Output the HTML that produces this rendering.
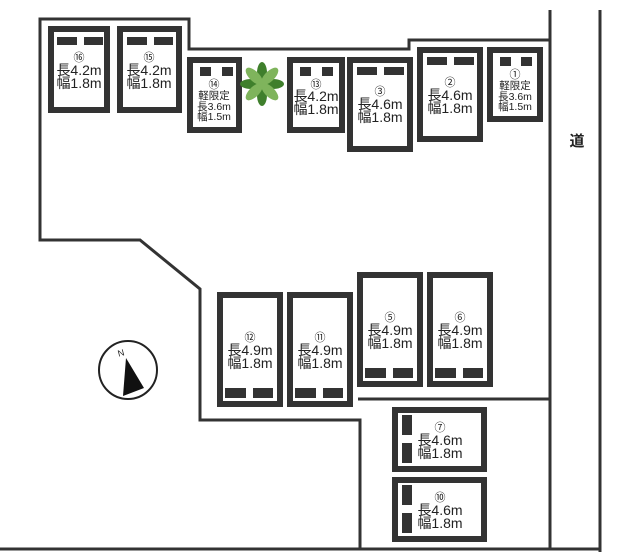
<!DOCTYPE html>
<html><head><meta charset="utf-8"><style>
html,body{margin:0;padding:0;background:#fff;}
svg{display:block;}
text{font-family:"Liberation Sans","Noto Sans CJK JP",sans-serif;fill:#222;text-anchor:middle;}
.n{font-size:11px}.t{font-size:14px}.s{font-size:10.5px}
</style></head><body>
<svg width="620" height="560" viewBox="0 0 620 560" xmlns="http://www.w3.org/2000/svg">
<g fill="none" stroke="#333" stroke-width="3">
<polyline points="550,10 550,40 409,40 409,49 189,49 189,19 40,19 40,240 140,240 200,289 200,420 360,420 360,549"/>
<line x1="0" y1="549" x2="600" y2="549"/>
<line x1="550" y1="40" x2="550" y2="549"/>
<line x1="600" y1="10" x2="600" y2="552"/>
<line x1="358" y1="399" x2="550" y2="399"/>
</g>
<g fill="#fff" stroke="#333" stroke-width="6">
<rect x="51" y="29" width="56" height="81"/>
<rect x="120" y="29" width="59" height="81"/>
<rect x="190" y="60" width="49" height="70"/>
<rect x="290" y="60" width="52" height="70"/>
<rect x="350" y="60" width="60" height="89"/>
<rect x="420" y="50" width="60" height="89"/>
<rect x="490" y="50" width="50" height="69"/>
<rect x="220" y="295" width="60" height="109"/>
<rect x="290" y="295" width="60" height="109"/>
<rect x="360" y="275" width="60" height="109"/>
<rect x="430" y="275" width="60" height="109"/>
<rect x="395" y="410" width="89" height="59"/>
<rect x="395" y="480" width="89" height="59"/>
</g>
<g fill="#333">
<rect x="57" y="37" width="20" height="8"/><rect x="84" y="37" width="19" height="8"/>
<rect x="127" y="37" width="20" height="8"/><rect x="154" y="37" width="19" height="8"/>
<rect x="200" y="67" width="11" height="9"/><rect x="222" y="67" width="11" height="9"/>
<rect x="300" y="67" width="11" height="9"/><rect x="322" y="67" width="11" height="9"/>
<rect x="357" y="67" width="20" height="8"/><rect x="384" y="67" width="20" height="8"/>
<rect x="427" y="57" width="20" height="8"/><rect x="454" y="57" width="20" height="8"/>
<rect x="500" y="57" width="11" height="9"/><rect x="521" y="57" width="11" height="9"/>
<rect x="225" y="388" width="21" height="10"/><rect x="253" y="388" width="20" height="10"/>
<rect x="295" y="388" width="21" height="10"/><rect x="323" y="388" width="20" height="10"/>
<rect x="365" y="368" width="21" height="10"/><rect x="393" y="368" width="20" height="10"/>
<rect x="435" y="368" width="21" height="10"/><rect x="463" y="368" width="20" height="10"/>
<rect x="402" y="415" width="10" height="20"/><rect x="402" y="443" width="10" height="20"/>
<rect x="402" y="485" width="10" height="20"/><rect x="402" y="513" width="10" height="20"/>
</g>
<g>
<text class="n" x="79" y="61">⑯</text><text class="t" x="79" y="75">長4.2m</text><text class="t" x="79" y="88">幅1.8m</text>
<text class="n" x="149" y="61">⑮</text><text class="t" x="149" y="75">長4.2m</text><text class="t" x="149" y="88">幅1.8m</text>
<text class="n" x="214" y="88">⑭</text><text class="s" x="214" y="99">軽限定</text><text class="s" x="214" y="110">長3.6m</text><text class="s" x="214" y="120">幅1.5m</text>
<text class="n" x="316" y="88">⑬</text><text class="t" x="316" y="101">長4.2m</text><text class="t" x="316" y="114">幅1.8m</text>
<text class="n" x="380" y="95">③</text><text class="t" x="380" y="109">長4.6m</text><text class="t" x="380" y="122">幅1.8m</text>
<text class="n" x="450" y="86">②</text><text class="t" x="450" y="100">長4.6m</text><text class="t" x="450" y="113">幅1.8m</text>
<text class="n" x="515" y="78">①</text><text class="s" x="515" y="89">軽限定</text><text class="s" x="515" y="100">長3.6m</text><text class="s" x="515" y="110">幅1.5m</text>
<text class="n" x="250" y="341">⑫</text><text class="t" x="250" y="355">長4.9m</text><text class="t" x="250" y="368">幅1.8m</text>
<text class="n" x="320" y="341">⑪</text><text class="t" x="320" y="355">長4.9m</text><text class="t" x="320" y="368">幅1.8m</text>
<text class="n" x="390" y="321">⑤</text><text class="t" x="390" y="335">長4.9m</text><text class="t" x="390" y="348">幅1.8m</text>
<text class="n" x="460" y="321">⑥</text><text class="t" x="460" y="335">長4.9m</text><text class="t" x="460" y="348">幅1.8m</text>
<text class="n" x="440" y="431">⑦</text><text class="t" x="440" y="445">長4.6m</text><text class="t" x="440" y="458">幅1.8m</text>
<text class="n" x="440" y="501">⑩</text><text class="t" x="440" y="515">長4.6m</text><text class="t" x="440" y="528">幅1.8m</text>
<text x="577" y="146" style="font-size:15px;font-weight:bold">道</text>
</g>
<circle cx="128" cy="370" r="29" fill="#fff" stroke="#222" stroke-width="2"/>
<polygon points="126,358 123,396 144,388" fill="#111"/>
<text x="121" y="356" style="font-size:9px" transform="rotate(-15 121 353)">N</text>
<g transform="translate(262,84)">
<g fill="#3f7f2c"><ellipse cx="0" cy="-11" rx="5" ry="11"/><ellipse cx="0" cy="-11" rx="5" ry="11" transform="rotate(90)"/><ellipse cx="0" cy="-11" rx="5" ry="11" transform="rotate(180)"/><ellipse cx="0" cy="-11" rx="5" ry="11" transform="rotate(270)"/></g>
<g fill="#7fb45c"><ellipse cx="0" cy="-11" rx="5" ry="11" transform="rotate(45)"/><ellipse cx="0" cy="-11" rx="5" ry="11" transform="rotate(135)"/><ellipse cx="0" cy="-11" rx="5" ry="11" transform="rotate(225)"/><ellipse cx="0" cy="-11" rx="5" ry="11" transform="rotate(315)"/></g>
</g>
</svg>
</body></html>
